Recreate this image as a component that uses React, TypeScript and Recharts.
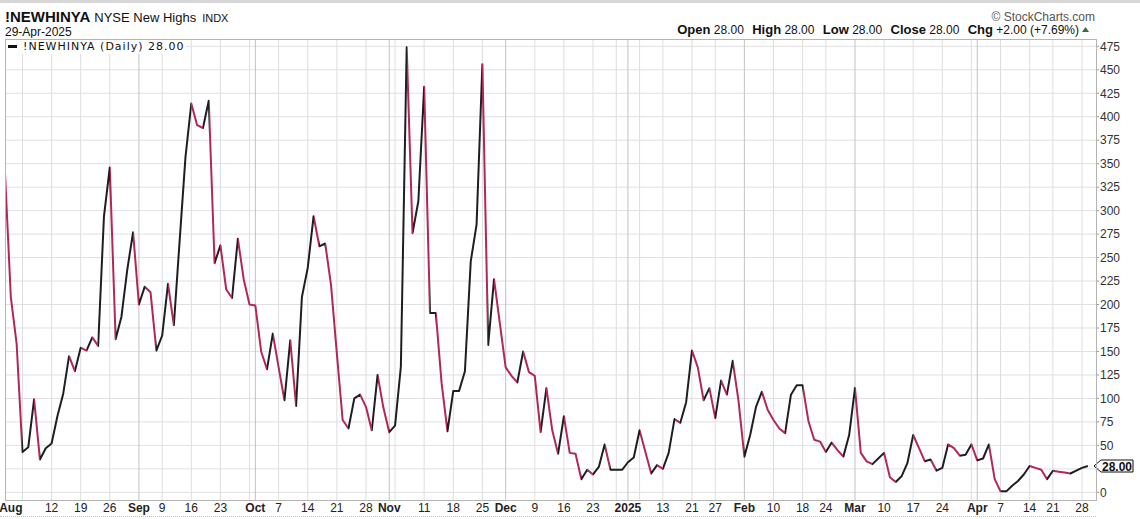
import React from 'react';
import { LineChart, Line, XAxis, YAxis, CartesianGrid, ReferenceLine } from 'recharts';

// !NEWHINYA daily closes, 31-Jul-2024 .. 29-Apr-2025 (one per trading day)
const values = [
  340, 208, 158, 43, 48, 99, 35, 47, 52, 81,
  105, 145, 129, 154, 151, 165, 156, 294, 346, 163,
  187, 237, 277, 200, 219, 213, 151, 167, 222, 178,
  268, 357, 414, 391, 388, 417, 244, 263, 216, 207,
  270, 227, 200, 199, 150, 131, 169, 133, 98, 162,
  92, 208, 239, 294, 262, 265, 221, 148, 77, 68,
  100, 104, 91, 66, 125, 90, 64, 71, 134, 474,
  276, 310, 432, 191, 191, 116, 65, 108, 108, 129,
  246, 285, 456, 157, 227, 180, 133, 124, 117, 150,
  128, 124, 64, 111, 66, 41, 81, 42, 41, 14,
  24, 19, 27, 51, 24, 24, 24, 32, 37, 66,
  43, 20, 29, 25, 42, 78, 74, 96, 151, 133,
  98, 111, 79, 119, 104, 140, 97, 38, 61, 91,
  107, 88, 77, 68, 63, 104, 114, 114, 76, 56,
  54, 43, 53, 45, 38, 61, 111, 42, 33, 30,
  36, 42, 16, 11, 17, 31, 61, 47, 33, 35,
  23, 26, 51, 47, 39, 40, 51, 34, 36, 51,
  14, 1, 1, 7, 12, 19, 28, 26, 24, 14,
  23, 22, 21, 20, 23, 26, 28,
];

// x-axis labels, placed on trading-day index
const tickIdx = [1, 8, 13, 18, 23, 27, 32, 37, 43, 47, 52, 57, 62, 66, 72, 77, 82, 86, 91, 96, 101,
  107, 113, 118, 122, 127, 132, 137, 141, 146, 151, 156, 161, 167, 171, 176, 180, 185];
const tickLabels = ['Aug', '12', '19', '26', 'Sep', '9', '16', '23', 'Oct', '7', '14', '21', '28',
  'Nov', '11', '18', '25', 'Dec', '9', '16', '23', '2025', '13', '21', '27', 'Feb', '10', '18', '24',
  'Mar', '10', '17', '24', 'Apr', '7', '14', '21', '28'];
const monthNames = ['Aug', 'Sep', 'Oct', 'Nov', 'Dec', '2025', 'Feb', 'Mar', 'Apr'];

// first trading day of each week / month
const weekLines = [3, 8, 13, 18, 27, 32, 37, 42, 47, 52, 57, 62, 67, 72, 77, 82, 91, 96, 101, 105,
  109, 113, 118, 122, 132, 137, 141, 151, 156, 161, 166, 171, 176, 180, 185];
const monthLines = [23, 43, 66, 86, 107, 127, 146, 167];

const yTicks = [0, 25, 50, 75, 100, 125, 150, 175, 200, 225, 250, 275, 300, 325, 350, 375, 400, 425, 450, 475];
// labels hidden behind the last-price tag
const hiddenYLabels = [25];

const RED = '#b02853';
const BLACK = '#1e1e1e';
const FONT = '"Liberation Sans", Arial, sans-serif';

const data = values.map((v, i) => ({ i, v }));
const last = values[values.length - 1];
const n = values.length - 1;

const DateTick = ({ x, y, payload }: any) => {
  const label = tickLabels[tickIdx.indexOf(payload.value)] ?? '';
  const bold = monthNames.includes(label);
  return (
    <text x={x} y={y + 12} textAnchor="middle" fontSize={12} fontFamily={FONT}
      fontWeight={bold ? 700 : 400} fill="#222">
      {label}
    </text>
  );
};

const PriceTag = ({ viewBox }: any) => {
  if (!viewBox) return null;
  const x = viewBox.x + viewBox.width;
  const y = viewBox.y;
  return (
    <g>
      <path d={`M${x - 2},${y} L${x + 5},${y - 6} L${x + 37},${y - 6} L${x + 37},${y + 6} L${x + 5},${y + 6} Z`}
        fill="#fff" stroke="#111" strokeWidth={1} />
      <text x={x + 21} y={y + 4.5} textAnchor="middle" fontSize={12} fontWeight={700}
        fontFamily={FONT} fill="#111">
        {last.toFixed(2)}
      </text>
    </g>
  );
};

export default function App() {
  return (
    <div style={{ position: 'absolute', left: 0, top: 0, width: 1140, height: 519, background: '#fff', overflow: 'hidden' }}>
      <div style={{ position: 'absolute', left: 0, top: 0, width: 1140, height: 3, background: '#d8d8d8' }} />

      <svg width={1140} height={38} style={{ position: 'absolute', left: 0, top: 0 }}>
        <text x={5} y={22} fontFamily={FONT} fontSize={15} fontWeight={700} fill="#111">
          !NEWHINYA
          <tspan fontSize={13} fontWeight={400} dx={4}>NYSE New Highs</tspan>
          <tspan fontSize={11} fontWeight={400} dx={6}>INDX</tspan>
        </text>
        <text x={5} y={36} fontFamily={FONT} fontSize={12} fill="#111">29-Apr-2025</text>
        <text x={1095} y={21} textAnchor="end" fontFamily={FONT} fontSize={12} fill="#555">© StockCharts.com</text>
        <text x={1079} y={34} textAnchor="end" fontFamily={FONT} fontSize={12} fill="#111">
          <tspan fontWeight={700} fontSize={13}>Open</tspan> 28.00{'  '}
          <tspan fontWeight={700} fontSize={13} dx={5}>High</tspan> 28.00{'  '}
          <tspan fontWeight={700} fontSize={13} dx={5}>Low</tspan> 28.00{'  '}
          <tspan fontWeight={700} fontSize={13} dx={5}>Close</tspan> 28.00{'  '}
          <tspan fontWeight={700} fontSize={13} dx={5}>Chg</tspan> +2.00 (+7.69%)
        </text>
        <polygon points="1082,32 1089,32 1085.5,27" fill="#3a6e3a" />
      </svg>

      <div style={{ position: 'absolute', left: 0, top: 0 }}>
        <LineChart width={1140} height={519} data={data} margin={{ top: 39, right: 0, bottom: 0, left: 5 }}>
          <defs>
            <linearGradient id="updown" x1="0" y1="0" x2="1" y2="0">
              {values.slice(1).map((v, k) => {
                const c = v < values[k] ? RED : BLACK;
                return [
                  <stop key={`a${k}`} offset={k / n} stopColor={c} />,
                  <stop key={`b${k}`} offset={(k + 1) / n} stopColor={c} />,
                ];
              })}
            </linearGradient>
          </defs>
          <CartesianGrid horizontalValues={yTicks} vertical={false} stroke="#e0e0e0" />
          <CartesianGrid verticalValues={weekLines} horizontal={false} stroke="#dedede" />
          <CartesianGrid verticalValues={monthLines} horizontal={false} stroke="#c2c2c2" />
          <XAxis dataKey="i" type="number" domain={[0, 187.4]} ticks={tickIdx} interval={0}
            height={19} axisLine={false} tickLine={false} tickSize={0} tickMargin={0}
            tick={<DateTick />} allowDataOverflow />
          <YAxis orientation="right" type="number" domain={[-8.2, 482.8]} ticks={yTicks} width={44}
            interval={0} axisLine={false} tickLine={{ stroke: '#999' }} tickSize={3} tickMargin={1}
            tickFormatter={(v: number) => (hiddenYLabels.includes(v) ? '' : String(v))}
            tick={{ fill: '#333', fontSize: 12, fontFamily: FONT }} allowDataOverflow />
          <Line type="linear" dataKey="v" stroke="url(#updown)" strokeWidth={2} dot={false}
            activeDot={false} strokeLinejoin="round" isAnimationActive={false} />
          <ReferenceLine y={last} stroke="none" label={<PriceTag />} />
        </LineChart>
      </div>

      <div style={{ position: 'absolute', left: 5, top: 39, width: 1092, height: 462, border: '1px solid #b4b4b4', boxSizing: 'border-box', pointerEvents: 'none' }} />
      <div style={{ position: 'absolute', left: 0, top: 516, width: 1096, borderTop: '1px dotted #c4c4c4' }} />

      <svg width={200} height={16} style={{ position: 'absolute', left: 0, top: 40 }}>
        <rect x={6} y={0} width={180} height={14} fill="#fff" />
        <line x1={8} y1={6.5} x2={17} y2={6.5} stroke="#111" strokeWidth={3} />
        <text x={23} y={10} fontFamily='"DejaVu Sans", Verdana, sans-serif' fontSize={11}
          letterSpacing={1} fill="#111">
          !NEWHINYA (Daily) 28.00
        </text>
      </svg>
    </div>
  );
}
